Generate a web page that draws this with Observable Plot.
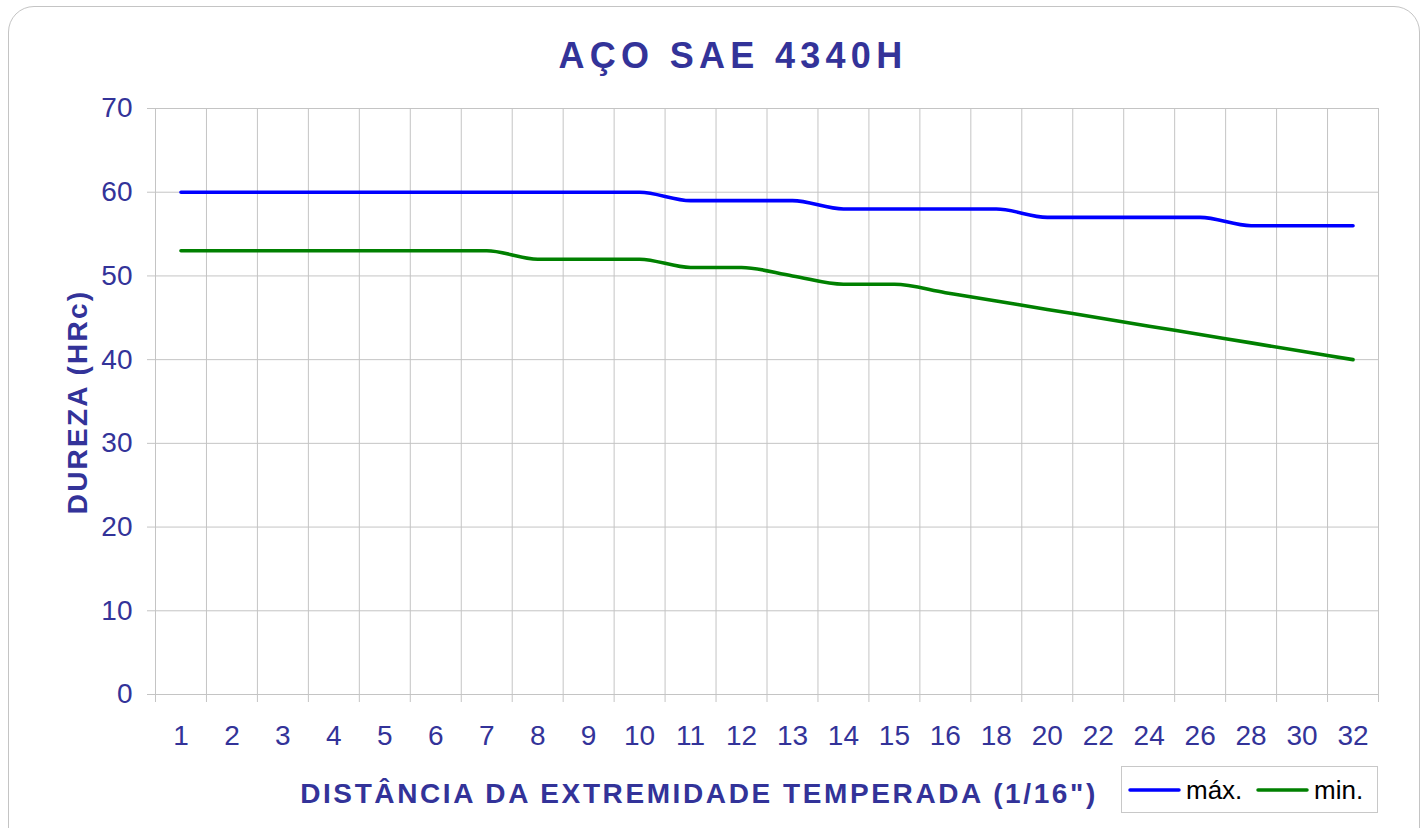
<!DOCTYPE html>
<html><head><meta charset="utf-8">
<script src="https://cdn.jsdelivr.net/npm/d3@7"></script>
<script src="https://cdn.jsdelivr.net/npm/@observablehq/plot@0.6"></script>
<style>
body{margin:0;background:#fff;}
#wrap{position:relative;width:1428px;height:828px;overflow:hidden;font-family:"Liberation Sans",Arial,sans-serif;}
#frame{position:absolute;left:8px;top:6px;width:1410px;height:880px;border:1px solid #c4c4c4;border-radius:26px;pointer-events:none;}
#wrap svg{position:absolute;left:0;top:0;}
</style></head><body><div id="wrap"></div>
<script>
// ---- data ----
const distances = ["1","2","3","4","5","6","7","8","9","10","11","12","13","14","15","16","18","20","22","24","26","28","30","32"];
const maxHRc = [60,60,60,60,60,60,60,60,60,60,59,59,59,58,58,58,58,57,57,57,57,56,56,56];
const minHRc = [53,53,53,53,53,53,53,52,52,52,51,51,50,49,49,48,47,46,45,44,43,42,41,40];
const seriesNames = ["máx.","min."];
const seriesColors = ["#0000ff","#008000"];
const yTicks = [0,10,20,30,40,50,60,70];
const titleText = "AÇO SAE 4340H";
const xTitleText = 'DISTÂNCIA DA EXTREMIDADE TEMPERADA (1/16")';
const yTitleText = "DUREZA (HRc)";

// ---- build ----
const idx = distances.map((d,i)=>i);
const bounds = [-0.5, ...idx.map(i=>i+0.5)];
const rows = [
  ...idx.map(i=>({i, v:maxHRc[i], s:seriesNames[0]})),
  ...idx.map(i=>({i, v:minHRc[i], s:seriesNames[1]}))
];
const ink = "#333399", grid = "#c4c4c4";
const font = "'Liberation Sans', Arial, sans-serif";

const chart = Plot.plot({
  width:1428, height:828,
  marginLeft:155, marginRight:50, marginTop:108, marginBottom:134,
  style:{fontFamily:font, background:"transparent", overflow:"visible"},
  x:{type:"linear", domain:[-0.5, distances.length-0.5]},
  y:{domain:[0,70]},
  color:{domain:seriesNames, range:seriesColors},
  marks:[
    Plot.gridY(yTicks,{stroke:grid, strokeOpacity:1}),
    Plot.gridX(bounds,{stroke:grid, strokeOpacity:1}),
    Plot.axisY(yTicks,{tickSize:8, tickPadding:15, stroke:grid, strokeOpacity:1, fill:ink, fontSize:28, label:null}),
    Plot.axisX(bounds,{tickSize:8, tickFormat:()=>"", stroke:grid, strokeOpacity:1, label:null}),
    Plot.axisX(idx,{tickSize:0, tickPadding:31, tickFormat:i=>distances[i], fill:ink, fontSize:28, label:null}),
    Plot.line(rows,{x:"i", y:"v", z:"s", stroke:"s", strokeWidth:3.6, curve:"monotone-x", strokeLinecap:"round", strokeLinejoin:"round"})
  ]
});

const wrap = document.getElementById("wrap");
wrap.appendChild(chart);
const fr = document.createElement("div"); fr.id="frame"; wrap.appendChild(fr);

const svg = d3.select(chart);
svg.append("text").text(titleText)
  .attr("x",733).attr("y",68).attr("text-anchor","middle")
  .attr("fill",ink).attr("font-size",36).attr("font-weight","bold")
  .style("letter-spacing","5.3px").attr("font-family",font);
svg.append("text").text(xTitleText)
  .attr("x",699).attr("y",803).attr("text-anchor","middle")
  .attr("fill",ink).attr("font-size",28).attr("font-weight","bold")
  .style("letter-spacing","2.6px").attr("font-family",font);
svg.append("text").text(yTitleText)
  .attr("transform","translate(87,402) rotate(-90)").attr("text-anchor","middle")
  .attr("fill",ink).attr("font-size",28).attr("font-weight","bold")
  .style("letter-spacing","2.2px").attr("font-family",font);

// legend
const lg = svg.append("g").attr("font-family",font).attr("text-anchor","start");
lg.append("rect").attr("x",1121.5).attr("y",766.5).attr("width",256).attr("height",46)
  .attr("fill","white").attr("stroke","#c8c8c8");
const lx = [1130, 1258];
seriesNames.forEach((n,k)=>{
  lg.append("line").attr("x1",lx[k]).attr("x2",lx[k]+49).attr("y1",790).attr("y2",790)
    .attr("stroke",seriesColors[k]).attr("stroke-width",3.5).attr("stroke-linecap","round");
  lg.append("text").text(n).attr("x",lx[k]+56).attr("y",799).attr("text-anchor","start")
    .attr("font-size",26).attr("fill","#000");
});
</script></body></html>
